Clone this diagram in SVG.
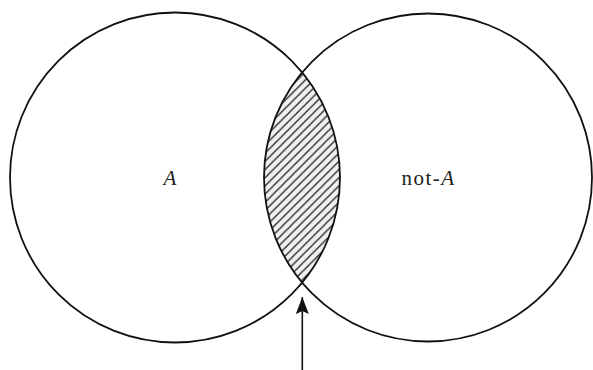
<svg xmlns="http://www.w3.org/2000/svg" width="593" height="370" viewBox="0 0 593 370">
  <style>
    .circ { fill: none; stroke: #111; stroke-width: 1.8; }
    .lbl { font-family: "Liberation Serif", "DejaVu Serif", "Noto Serif", "Times New Roman", serif; font-size: 21px; fill: #222; }
    .it { font-style: italic; }
    .conn { stroke: #111; stroke-width: 1.6; fill: none; }
  </style>
  <defs>
    <pattern id="hatch" patternUnits="userSpaceOnUse" width="8.2" height="8.2">
      <rect width="8.2" height="8.2" fill="#f0f0f0"/>
      <path d="M-1,1 L1,-1 M0,8.2 L8.2,0 M7.2,9.2 L9.2,7.2" stroke="#2a2a2a" stroke-width="1.4"/>
    </pattern>
    <marker id="arrow" markerUnits="userSpaceOnUse" markerWidth="17" markerHeight="13" refX="17" refY="6.5" orient="auto" viewBox="0 0 17 13">
      <path d="M0,0 L17,6.5 L0,13 L3,6.5 Z" fill="#111"/>
    </marker>
  </defs>
  <rect width="593" height="370" fill="#ffffff"/>
  <g id="lens">
    <path d="M302.15,72.3 A164,164 0 0 0 302.15,282.7 A165,165 0 0 0 302.15,72.3 Z" fill="url(#hatch)" stroke="none"/>
  </g>
  <g id="node-A">
    <circle class="circ" cx="175" cy="177.5" r="165"/>
    <text class="lbl it" x="170" y="184.5" text-anchor="middle">A</text>
  </g>
  <g id="node-notA">
    <circle class="circ" cx="428" cy="177.5" r="164"/>
    <text class="lbl" x="428.5" y="185" text-anchor="middle" letter-spacing="1.5">not-<tspan class="it">A</tspan></text>
  </g>
  <g id="connectors">
    <line class="conn" x1="302.3" y1="370" x2="302.3" y2="297" marker-end="url(#arrow)"/>
  </g>
</svg>
